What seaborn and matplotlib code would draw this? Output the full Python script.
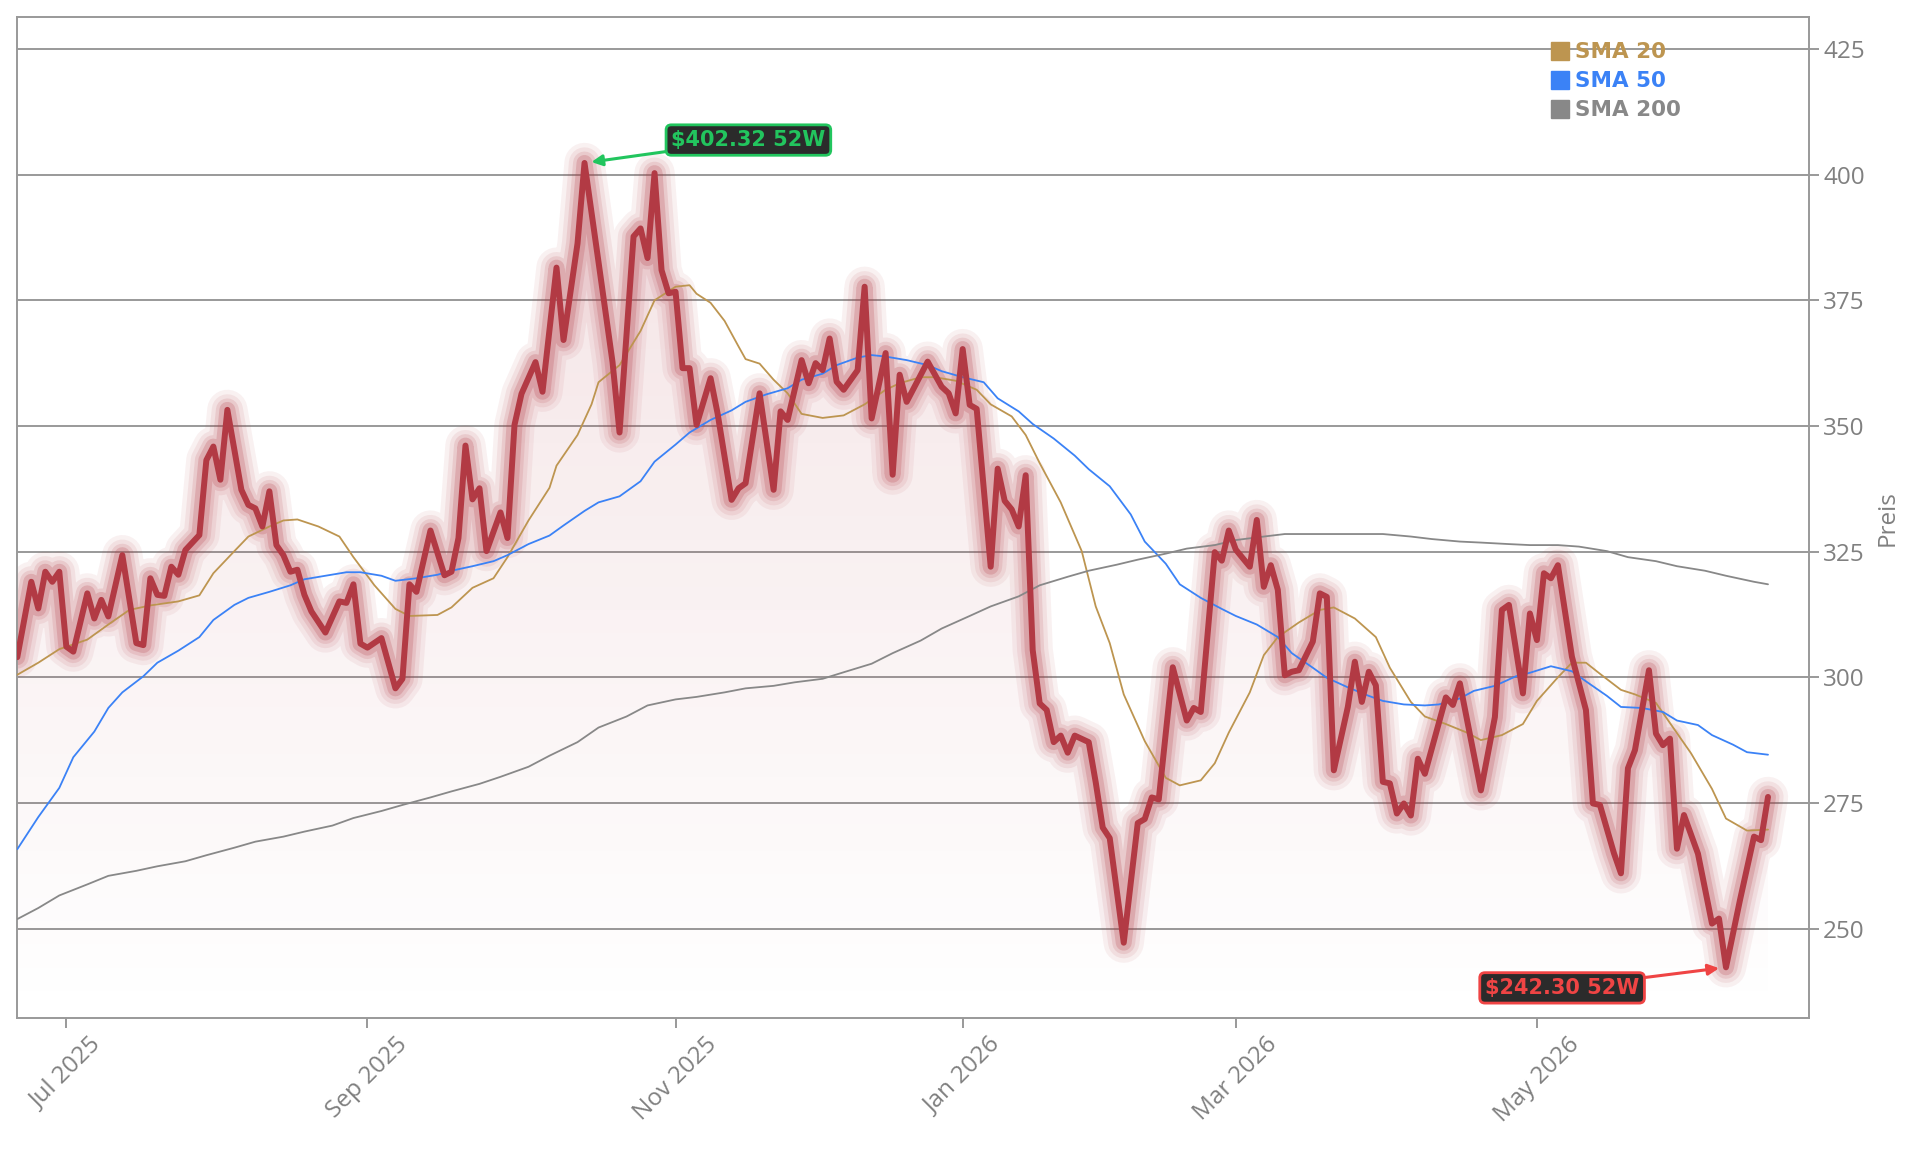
import numpy as np
import pandas as pd
import matplotlib
matplotlib.use("Agg")
import matplotlib.pyplot as plt
from matplotlib.colors import LinearSegmentedColormap
from matplotlib.lines import Line2D
import seaborn as sns

# exchange holidays: the x axis runs over trading sessions, not calendar days
HOLIDAYS = ["2025-07-04", "2025-09-01", "2025-11-27", "2025-12-25", "2026-01-01",
            "2026-01-19", "2026-02-16", "2026-04-03", "2026-05-25", "2026-06-19"]
FIRST_SESSION = "2025-06-20"

# closing prices (turning points)
price_dates = [
    "2025-06-20", "2025-06-24", "2025-06-25", "2025-06-26", "2025-06-27", "2025-06-30",
    "2025-07-01", "2025-07-02", "2025-07-07", "2025-07-08", "2025-07-09", "2025-07-10",
    "2025-07-14", "2025-07-16", "2025-07-17", "2025-07-18", "2025-07-21", "2025-07-22",
    "2025-07-23", "2025-07-24", "2025-07-25", "2025-07-29", "2025-07-30", "2025-07-31",
    "2025-08-01", "2025-08-04", "2025-08-06", "2025-08-07", "2025-08-08", "2025-08-11",
    "2025-08-12", "2025-08-13", "2025-08-14", "2025-08-15", "2025-08-18", "2025-08-19",
    "2025-08-20", "2025-08-22", "2025-08-26", "2025-08-27", "2025-08-28", "2025-08-29",
    "2025-09-02", "2025-09-04", "2025-09-08", "2025-09-09", "2025-09-10", "2025-09-11",
    "2025-09-15", "2025-09-17", "2025-09-18", "2025-09-19", "2025-09-22", "2025-09-23",
    "2025-09-24", "2025-09-25", "2025-09-29", "2025-09-30", "2025-10-01", "2025-10-02",
    "2025-10-06", "2025-10-07", "2025-10-09", "2025-10-10", "2025-10-14", "2025-10-15",
    "2025-10-17", "2025-10-21", "2025-10-22", "2025-10-24", "2025-10-27", "2025-10-28",
    "2025-10-29", "2025-10-30", "2025-10-31", "2025-11-03", "2025-11-04", "2025-11-05",
    "2025-11-06", "2025-11-10", "2025-11-11", "2025-11-13", "2025-11-14", "2025-11-17",
    "2025-11-19", "2025-11-21", "2025-11-24", "2025-11-25", "2025-11-28", "2025-12-01",
    "2025-12-02", "2025-12-03", "2025-12-04", "2025-12-05", "2025-12-08", "2025-12-10",
    "2025-12-11", "2025-12-12", "2025-12-16", "2025-12-17", "2025-12-18", "2025-12-19",
    "2025-12-24", "2025-12-29", "2025-12-30", "2025-12-31", "2026-01-02", "2026-01-05",
    "2026-01-06", "2026-01-08", "2026-01-09", "2026-01-12", "2026-01-13", "2026-01-14",
    "2026-01-15", "2026-01-16", "2026-01-20", "2026-01-21", "2026-01-22", "2026-01-23",
    "2026-01-26", "2026-01-27", "2026-01-29", "2026-01-30", "2026-02-02", "2026-02-03",
    "2026-02-05", "2026-02-09", "2026-02-10", "2026-02-11", "2026-02-12", "2026-02-17",
    "2026-02-19", "2026-02-20", "2026-02-23", "2026-02-25", "2026-02-26", "2026-02-27",
    "2026-03-02", "2026-03-04", "2026-03-05", "2026-03-06", "2026-03-09", "2026-03-10",
    "2026-03-11", "2026-03-12", "2026-03-13", "2026-03-17", "2026-03-18", "2026-03-19",
    "2026-03-20", "2026-03-24", "2026-03-25", "2026-03-26", "2026-03-27", "2026-03-30",
    "2026-03-31", "2026-04-01", "2026-04-02", "2026-04-06", "2026-04-07", "2026-04-08",
    "2026-04-09", "2026-04-14", "2026-04-15", "2026-04-16", "2026-04-21", "2026-04-23",
    "2026-04-24", "2026-04-27", "2026-04-29", "2026-04-30", "2026-05-01", "2026-05-04",
    "2026-05-05", "2026-05-06", "2026-05-08", "2026-05-12", "2026-05-13", "2026-05-14",
    "2026-05-18", "2026-05-19", "2026-05-20", "2026-05-21", "2026-05-26", "2026-05-27",
    "2026-05-28", "2026-05-29", "2026-06-01", "2026-06-02", "2026-06-04", "2026-06-08",
    "2026-06-09", "2026-06-10", "2026-06-12", "2026-06-16", "2026-06-17", "2026-06-18",
]
price_values = [
    304.0, 319.0, 313.7, 321.0, 319.0, 321.0,
    306.1, 305.1, 316.7, 311.7, 315.4, 312.1,
    324.3, 306.8, 306.4, 319.7, 316.4, 316.2,
    322.0, 320.4, 325.3, 328.3, 343.2, 345.9,
    339.3, 353.2, 337.3, 334.3, 333.6, 330.0,
    337.0, 326.3, 324.3, 321.0, 321.4, 316.4,
    313.1, 308.9, 315.1, 314.8, 318.5, 306.7,
    305.9, 307.8, 297.8, 299.7, 318.5, 317.0,
    329.2, 320.3, 321.0, 327.7, 346.1, 335.4,
    337.6, 325.1, 332.8, 327.7, 350.2, 356.4,
    362.7, 356.8, 381.5, 367.1, 386.3, 402.32,
    382.6, 362.7, 348.7, 387.7, 389.3, 383.4,
    400.3, 381.0, 376.4, 376.7, 361.5, 361.5,
    350.2, 359.5, 352.5, 335.3, 337.6, 338.6,
    356.5, 337.3, 352.9, 351.2, 363.1, 358.5,
    362.5, 361.1, 367.4, 358.8, 357.2, 361.1,
    377.7, 351.5, 364.5, 340.3, 360.2, 354.8,
    362.8, 357.8, 356.5, 352.5, 365.3, 354.2,
    353.4, 322.0, 341.5, 335.1, 333.4, 330.0,
    340.2, 305.4, 294.8, 293.5, 287.1, 288.4,
    285.0, 288.4, 287.1, 279.1, 270.1, 268.0,
    247.2, 271.0, 271.8, 276.1, 275.7, 302.0,
    291.4, 293.9, 293.1, 324.9, 323.2, 329.2,
    325.4, 322.0, 331.3, 318.0, 322.3, 317.4,
    300.4, 301.1, 301.4, 307.1, 316.7, 316.0,
    281.5, 294.1, 303.1, 295.1, 301.1, 298.4,
    279.2, 278.9, 272.9, 274.9, 272.5, 283.8,
    280.8, 296.0, 294.5, 298.8, 277.5, 292.1,
    313.4, 314.4, 296.8, 312.7, 307.4, 320.7,
    319.7, 322.3, 304.1, 293.5, 274.9, 274.6,
    265.0, 261.0, 281.9, 285.5, 301.4, 288.8,
    286.5, 287.8, 265.9, 272.6, 264.9, 251.0,
    252.0, 242.30, 255.7, 268.3, 267.6, 276.2,
]

sma20_dates = [
    "2025-06-20", "2025-06-25", "2025-06-30", "2025-07-07", "2025-07-10", "2025-07-15",
    "2025-07-18", "2025-07-24", "2025-07-29", "2025-07-31", "2025-08-05", "2025-08-07",
    "2025-08-12", "2025-08-14", "2025-08-18", "2025-08-21", "2025-08-26", "2025-08-28",
    "2025-09-03", "2025-09-08", "2025-09-10", "2025-09-16", "2025-09-18", "2025-09-23",
    "2025-09-26", "2025-09-30", "2025-10-03", "2025-10-08", "2025-10-09", "2025-10-14",
    "2025-10-16", "2025-10-17", "2025-10-22", "2025-10-27", "2025-10-29", "2025-11-03",
    "2025-11-05", "2025-11-06", "2025-11-10", "2025-11-12", "2025-11-14", "2025-11-17",
    "2025-11-19", "2025-11-21", "2025-11-25", "2025-11-28", "2025-12-03", "2025-12-08",
    "2025-12-11", "2025-12-16", "2025-12-18", "2025-12-23", "2025-12-26", "2025-12-31",
    "2026-01-06", "2026-01-08", "2026-01-13", "2026-01-15", "2026-01-20", "2026-01-23",
    "2026-01-28", "2026-01-30", "2026-02-03", "2026-02-05", "2026-02-10", "2026-02-13",
    "2026-02-18", "2026-02-23", "2026-02-25", "2026-02-27", "2026-03-04", "2026-03-06",
    "2026-03-10", "2026-03-13", "2026-03-18", "2026-03-20", "2026-03-25", "2026-03-30",
    "2026-04-01", "2026-04-07", "2026-04-09", "2026-04-14", "2026-04-17", "2026-04-21",
    "2026-04-24", "2026-04-29", "2026-05-01", "2026-05-06", "2026-05-08", "2026-05-12",
    "2026-05-14", "2026-05-19", "2026-05-21", "2026-05-27", "2026-05-29", "2026-06-03",
    "2026-06-08", "2026-06-10", "2026-06-15", "2026-06-18",
]
sma20_values = [
    300.5, 302.9, 305.6, 307.5, 310.5, 313.4,
    314.3, 315.1, 316.3, 320.7, 325.1, 328.0,
    330.0, 331.2, 331.4, 330.0, 328.0, 323.9,
    318.3, 313.6, 312.2, 312.4, 313.9, 317.8,
    319.7, 323.9, 331.2, 337.7, 342.1, 348.2,
    354.3, 358.7, 362.1, 368.9, 375.0, 377.7,
    378.0, 376.3, 374.5, 370.9, 365.8, 363.3,
    362.4, 359.2, 356.5, 352.4, 351.6, 352.1,
    354.3, 357.2, 358.5, 359.7, 359.7, 359.0,
    357.2, 354.3, 351.9, 348.2, 342.6, 334.8,
    325.1, 314.1, 306.8, 296.6, 287.3, 280.0,
    278.5, 279.5, 282.9, 289.0, 297.0, 304.4,
    308.0, 310.9, 313.4, 313.9, 311.7, 308.0,
    301.9, 295.1, 292.2, 290.7, 289.0, 287.5,
    288.5, 290.7, 295.3, 300.0, 302.9, 302.9,
    300.7, 297.5, 296.6, 294.9, 290.9, 284.9,
    277.8, 271.9, 269.5, 269.7,
]

sma50_dates = [
    "2025-06-20", "2025-06-25", "2025-06-30", "2025-07-02", "2025-07-08", "2025-07-10",
    "2025-07-14", "2025-07-17", "2025-07-21", "2025-07-24", "2025-07-29", "2025-07-31",
    "2025-08-05", "2025-08-07", "2025-08-12", "2025-08-15", "2025-08-19", "2025-08-22",
    "2025-08-27", "2025-08-29", "2025-09-04", "2025-09-08", "2025-09-11", "2025-09-16",
    "2025-09-18", "2025-09-23", "2025-09-26", "2025-09-30", "2025-10-03", "2025-10-08",
    "2025-10-10", "2025-10-15", "2025-10-17", "2025-10-22", "2025-10-27", "2025-10-29",
    "2025-11-03", "2025-11-05", "2025-11-10", "2025-11-13", "2025-11-17", "2025-11-20",
    "2025-11-25", "2025-11-28", "2025-12-03", "2025-12-05", "2025-12-10", "2025-12-12",
    "2025-12-16", "2025-12-19", "2025-12-24", "2025-12-29", "2026-01-02", "2026-01-07",
    "2026-01-09", "2026-01-14", "2026-01-16", "2026-01-22", "2026-01-27", "2026-01-29",
    "2026-02-03", "2026-02-06", "2026-02-10", "2026-02-13", "2026-02-18", "2026-02-23",
    "2026-02-26", "2026-03-02", "2026-03-05", "2026-03-10", "2026-03-12", "2026-03-17",
    "2026-03-19", "2026-03-24", "2026-03-27", "2026-03-31", "2026-04-06", "2026-04-09",
    "2026-04-13", "2026-04-16", "2026-04-20", "2026-04-23", "2026-04-28", "2026-04-30",
    "2026-05-05", "2026-05-08", "2026-05-12", "2026-05-15", "2026-05-19", "2026-05-22",
    "2026-05-28", "2026-06-01", "2026-06-04", "2026-06-08", "2026-06-11", "2026-06-15",
    "2026-06-18",
]
sma50_values = [
    265.8, 272.2, 278.0, 284.1, 289.2, 293.9,
    297.0, 300.2, 302.9, 305.3, 308.0, 311.4,
    314.4, 315.8, 317.0, 318.3, 319.5, 320.2,
    320.9, 320.9, 320.2, 319.2, 319.7, 320.4,
    321.2, 322.1, 323.1, 324.3, 326.5, 328.2,
    330.2, 333.1, 334.8, 336.0, 339.0, 342.9,
    346.3, 348.7, 351.2, 353.1, 354.8, 356.3,
    357.5, 359.2, 360.4, 362.1, 363.6, 364.1,
    363.8, 363.1, 362.1, 360.9, 359.7, 358.7,
    355.5, 352.9, 350.4, 347.5, 344.1, 341.4,
    338.0, 332.4, 327.0, 322.6, 318.5, 315.8,
    313.6, 312.2, 310.5, 308.0, 304.8, 301.9,
    299.9, 298.0, 296.3, 295.3, 294.6, 294.4,
    294.6, 295.8, 297.3, 298.3, 300.2, 300.9,
    302.2, 301.2, 299.2, 296.3, 294.1, 293.9,
    293.1, 291.4, 290.5, 288.5, 286.6, 285.1,
    284.6,
]

sma200_dates = [
    "2025-06-20", "2025-06-25", "2025-06-30", "2025-07-07", "2025-07-10", "2025-07-16",
    "2025-07-21", "2025-07-25", "2025-07-30", "2025-08-05", "2025-08-08", "2025-08-14",
    "2025-08-19", "2025-08-25", "2025-08-28", "2025-09-04", "2025-09-09", "2025-09-15",
    "2025-09-18", "2025-09-24", "2025-09-29", "2025-10-03", "2025-10-08", "2025-10-14",
    "2025-10-17", "2025-10-23", "2025-10-28", "2025-11-03", "2025-11-06", "2025-11-12",
    "2025-11-17", "2025-11-21", "2025-11-26", "2025-12-03", "2025-12-08", "2025-12-12",
    "2025-12-17", "2025-12-23", "2025-12-29", "2026-01-05", "2026-01-08", "2026-01-14",
    "2026-01-20", "2026-01-26", "2026-01-29", "2026-02-04", "2026-02-09", "2026-02-13",
    "2026-02-19", "2026-02-25", "2026-03-02", "2026-03-06", "2026-03-11", "2026-03-17",
    "2026-03-20", "2026-03-26", "2026-03-31", "2026-04-07", "2026-04-10", "2026-04-16",
    "2026-04-21", "2026-04-27", "2026-04-30", "2026-05-06", "2026-05-11", "2026-05-15",
    "2026-05-20", "2026-05-27", "2026-06-01", "2026-06-05", "2026-06-10", "2026-06-16",
    "2026-06-18",
]
sma200_values = [
    251.9, 254.1, 256.6, 258.8, 260.5, 261.5,
    262.4, 263.4, 264.6, 266.1, 267.3, 268.3,
    269.3, 270.5, 272.0, 273.4, 274.6, 276.1,
    277.3, 278.8, 280.2, 282.2, 284.4, 287.1,
    290.0, 292.2, 294.4, 295.6, 296.1, 297.0,
    297.8, 298.3, 299.0, 299.7, 301.0, 302.7,
    304.8, 307.3, 309.7, 312.2, 314.1, 316.1,
    318.3, 320.0, 321.2, 322.4, 323.4, 324.6,
    325.6, 326.3, 327.3, 328.0, 328.5, 328.5,
    328.5, 328.5, 328.5, 328.0, 327.5, 327.0,
    326.8, 326.5, 326.3, 326.3, 326.0, 325.1,
    323.9, 323.1, 322.1, 321.2, 320.2, 319.0,
    318.5,
]

sma_labels = ["SMA 20", "SMA 50", "SMA 200"]
sma_colors = ["#bd9550", "#3b82f6", "#888888"]
y_ticks = [250, 275, 300, 325, 350, 375, 400, 425]
tick_months = [1, 3, 5, 7, 9, 11]

PRICE_RED = "#b23a44"
GRID_GREY = "#999999"
TEXT_GREY = "#808080"


def session_index(dates):
    days = np.array(pd.to_datetime(dates).values, dtype="datetime64[D]")
    return np.busday_count(np.datetime64(FIRST_SESSION), days, holidays=HOLIDAYS)


def main():
    sns.set_theme(style="white")
    plt.rcParams["font.family"] = ["Open Sans", "DejaVu Sans"]

    price = pd.DataFrame({"date": pd.to_datetime(price_dates), "close": price_values})
    price["x"] = session_index(price_dates)
    smas = []
    for d, v in [(sma20_dates, sma20_values), (sma50_dates, sma50_values),
                 (sma200_dates, sma200_values)]:
        smas.append(pd.DataFrame({"x": session_index(d), "value": v}))

    fig = plt.figure(figsize=(19.21, 11.53), dpi=100)
    ax = fig.add_axes([0.009, 0.117, 0.9325, 0.868])

    y_lo, y_hi = 232.2, 431.3
    x_lo, x_hi = 0, price["x"].iloc[-1] + 5.8

    # gradient area under the price, clipped to the fill polygon
    poly = ax.fill_between(price["x"], price["close"], y_lo, color="none", lw=0)
    clip = poly.get_paths()[0]
    fade = LinearSegmentedColormap.from_list(
        "fade", [(0.70, 0.23, 0.27, 0.0), (0.70, 0.23, 0.27, 0.14)])
    grad = ax.imshow(np.linspace(0, 1, 256).reshape(-1, 1), cmap=fade, aspect="auto",
                     extent=[price["x"].iloc[0], price["x"].iloc[-1], y_lo,
                             price["close"].max()], origin="lower", zorder=1)
    grad.set_clip_path(clip, ax.transData)

    # glow around the price line
    for lw, a in [(29, 0.07), (22.5, 0.09), (16.5, 0.13), (11.5, 0.21)]:
        sns.lineplot(data=price, x="x", y="close", ax=ax, color=PRICE_RED, lw=lw,
                     alpha=a, legend=False, zorder=2, solid_joinstyle="round",
                     solid_capstyle="round")

    for df, c in zip(smas, sma_colors):
        sns.lineplot(data=df, x="x", y="value", ax=ax, color=c, lw=1.3,
                     legend=False, zorder=3)

    sns.lineplot(data=price, x="x", y="close", ax=ax, color=PRICE_RED, lw=4.3,
                 legend=False, zorder=4)

    ax.set_xlim(x_lo, x_hi)
    ax.set_ylim(y_lo, y_hi)

    # month ticks on the first session of every second month
    sessions = pd.Series(pd.bdate_range(FIRST_SESSION, price["date"].iloc[-1],
                                        freq="C", holidays=HOLIDAYS))
    firsts = sessions.groupby(sessions.dt.to_period("M")).first()
    firsts = firsts[(firsts.dt.month.isin(tick_months)) & (firsts.dt.day <= 7)]
    ax.set_xticks(session_index(firsts))
    ax.set_xticklabels([d.strftime("%b %Y") for d in firsts], rotation=45, ha="center")

    ax.set_yticks(y_ticks)
    ax.yaxis.tick_right()
    ax.yaxis.set_label_position("right")
    ax.yaxis.grid(True, color=GRID_GREY, lw=1.4, zorder=0)
    ax.xaxis.grid(False)
    ax.set_axisbelow(True)
    for sp in ax.spines.values():
        sp.set_visible(True)
        sp.set_color(GRID_GREY)
        sp.set_linewidth(1.4)

    ax.tick_params(axis="both", which="major", length=7, width=1.4, color=GRID_GREY,
                   labelcolor=TEXT_GREY, labelsize=17.5, bottom=True, right=True,
                   left=False)
    ax.set_xlabel("")
    ax.set_ylabel("Preis", color=TEXT_GREY, fontsize=17.5, labelpad=8)

    # legend
    handles = [Line2D([], [], marker="s", ls="none", color=c, markersize=13)
               for c in sma_colors]
    ax.legend(handles, sma_labels, loc="upper left", bbox_to_anchor=(0.856, 0.975),
              frameon=False, prop={"family": "DejaVu Sans", "weight": "bold", "size": 15.5},
              labelcolor=sma_colors, handletextpad=0.25, labelspacing=0.42,
              handlelength=0.9, borderaxespad=0.0, borderpad=0.0)

    # 52 week high / low annotations
    i_hi = price["close"].idxmax()
    i_lo = price["close"].idxmin()
    for i, off, col in [(i_hi, (118, 16.5), "#22c55e"), (i_lo, (-118, -14.8), "#ef4444")]:
        v = price.loc[i, "close"]
        ax.annotate(f"${v:.2f} 52W", xy=(price.loc[i, "x"], v), xytext=off,
                    textcoords="offset points", ha="center", va="center", fontsize=15,
                    fontweight="bold", family="DejaVu Sans", color=col, zorder=6,
                    bbox=dict(boxstyle="round,pad=0.25", fc="#2b2b2b", ec=col, lw=2),
                    arrowprops=dict(arrowstyle="-|>", color=col, lw=2.2,
                                    mutation_scale=16, shrinkA=0, shrinkB=5))

    fig.savefig("out.png", dpi=100)
    plt.close(fig)


if __name__ == "__main__":
    main()
